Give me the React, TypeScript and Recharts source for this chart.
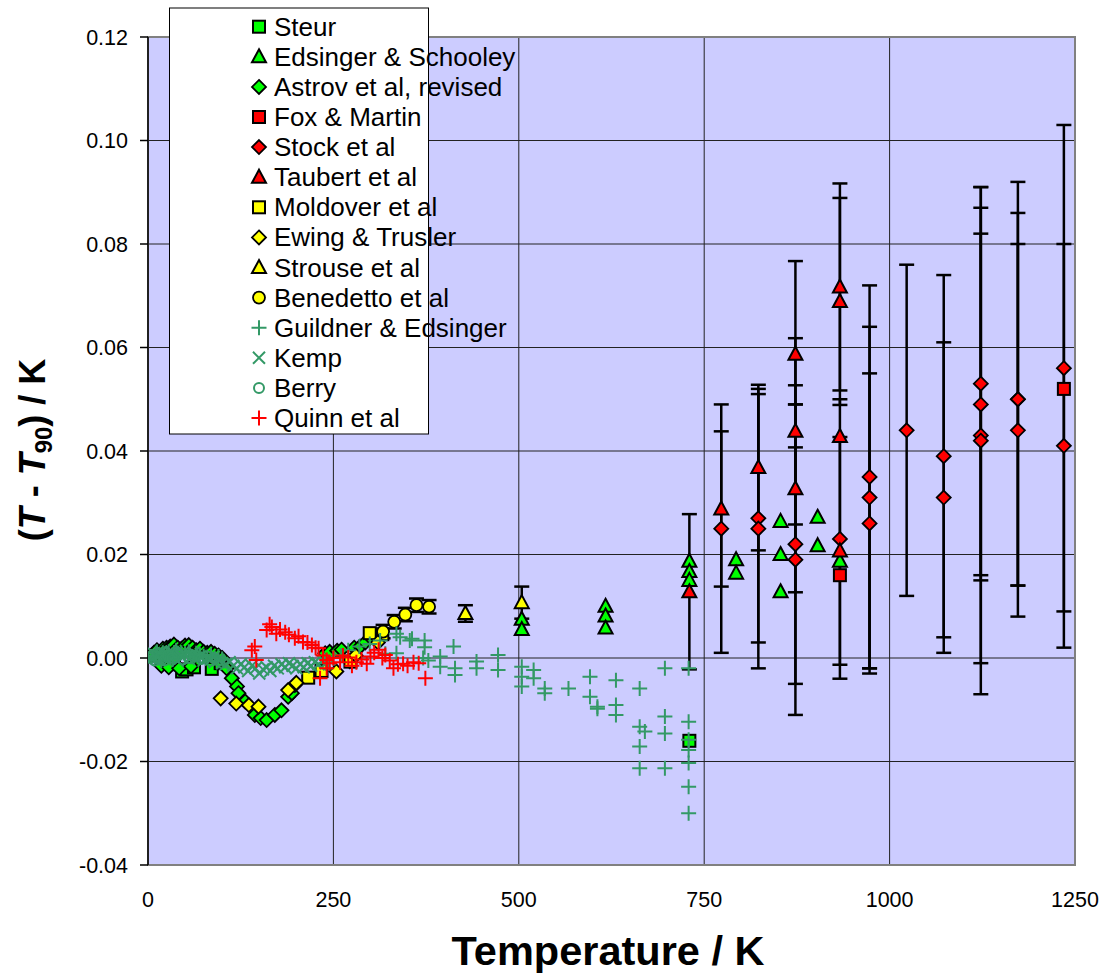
import React from 'react';
import { ScatterChart, Scatter, XAxis, YAxis, CartesianGrid, ErrorBar, ReferenceArea } from 'recharts';

// [temperature K, T - T90 in K, optional error]
type Pt = [number, number, (number | [number, number])?];

const xTicks = [0, 250, 500, 750, 1000, 1250];
const yTicks = [-0.04, -0.02, 0, 0.02, 0.04, 0.06, 0.08, 0.1, 0.12];

const steur: Pt[] = [
  [13, 0.0005], [22, -0.0008], [35, -0.0012], [46, -0.0026], [52, -0.0022],
  [62, -0.0018], [86, -0.0021], [98, -0.001], [730, -0.016],
];

const edsingerSchooley: Pt[] = [
  [504, 0.0075], [504, 0.0055], [617, 0.01], [617, 0.0081], [617, 0.0058],
  [730, 0.0187], [730, 0.0167], [730, 0.015], [793, 0.019], [793, 0.0164],
  [853, 0.0264], [853, 0.02], [853, 0.0128], [903, 0.0272], [903, 0.0217], [933, 0.0187],
];

const astrov: Pt[] = [
  [5, 0.0005], [8, 0.001], [12, 0.0015], [15, 0.001], [20, 0.0018], [25, 0.002],
  [30, 0.0022], [35, 0.0026], [40, 0.002], [45, 0.0018], [50, 0.0024], [55, 0.0025],
  [60, 0.002], [65, 0.0015], [70, 0.0018], [75, 0.0012], [80, 0.001], [85, 0.0012],
  [90, 0.0008], [95, 0.0005], [18, -0.0015], [28, -0.0018], [42, -0.002], [58, -0.0016],
  [100, 0.0], [106, -0.002], [113, -0.0039], [120, -0.0055], [122, -0.0068],
  [131, -0.0084], [144, -0.011], [152, -0.0116], [160, -0.012], [171, -0.011],
  [180, -0.0101], [189, -0.0075], [194, -0.0068], [198, -0.0052],
  [239, 0.0009], [245, 0.0012], [255, 0.0014], [261, 0.0016], [272, -0.0006],
  [278, 0.002], [286, 0.0022], [293, 0.003], [300, 0.004],
];

const foxMartin: Pt[] = [[933, 0.016], [1235, 0.052]];

const stock: Pt[] = [
  [773, 0.025, 0.024], [823, 0.027, 0.024], [823, 0.025, 0.027], [873, 0.022, 0.027],
  [873, 0.019, 0.03], [933, 0.023, 0.027], [973, 0.035, 0.037], [973, 0.031, 0.033],
  [973, 0.026, 0.029], [1023, 0.044, 0.032], [1073, 0.039, 0.035], [1073, 0.031, 0.03],
  [1123, 0.053, 0.038], [1123, 0.049, 0.033], [1123, 0.043, 0.044], [1123, 0.042, 0.049],
  [1173, 0.05, [0.036, 0.042]], [1173, 0.05, 0.036], [1173, 0.044, 0.036],
  [1235, 0.056, 0.047], [1235, 0.041, 0.039],
];

const taubert: Pt[] = [
  [730, 0.0128, 0.015], [773, 0.0288, 0.015], [823, 0.0368, 0.016],
  [873, 0.0587, 0.018], [873, 0.0438, 0.018], [873, 0.0327, 0.02],
  [933, 0.0717, 0.02], [933, 0.0689, 0.02], [933, 0.0428], [933, 0.0207, 0.022],
];

const moldover: Pt[] = [
  [216, -0.0038], [234, -0.0025], [273, -0.0007], [299, 0.0048], [316, 0.0046],
];

const ewingTrusler: Pt[] = [
  [98, -0.0078], [119, -0.0088], [136, -0.0091], [149, -0.0094], [189, -0.0062],
  [200, -0.0048], [254, -0.0026], [280, 0.0005], [310, 0.003],
];

const strouse: Pt[] = [[428, 0.0086, 0.0016], [504, 0.0107, 0.0031]];

const benedetto: Pt[] = [
  [317, 0.0051, 0.0013], [332, 0.007, 0.0013], [347, 0.0084, 0.0013],
  [362, 0.0102, 0.0013], [379, 0.0099, 0.0013],
];

const guildner: Pt[] = [
  [5, 0.0003], [10, 0.0005], [12, 0.0012], [15, 0.0], [18, -0.0005], [20, 0.001],
  [22, 0.0008], [25, 0.0005], [28, 0.0012], [30, 0.0], [33, -0.0003], [35, 0.001],
  [38, 0.0015], [40, 0.0005], [45, 0.001], [50, 0.0008], [55, 0.0012], [60, 0.0003],
  [65, 0.0009], [70, 0.0006], [75, 0.0004], [80, 0.0002], [85, 0.0006], [90, 0.0],
  [95, 0.0003], [100, -0.0002], [240, -0.001], [250, 0.0], [260, 0.0005], [270, 0.0015],
  [285, 0.0022], [299, 0.0027], [313, 0.0034], [320, 0.0008], [335, 0.0047],
  [335, 0.0009], [340, 0.004], [353, 0.0034], [356, 0.0037], [371, 0.0],
  [373, 0.0034], [373, 0.0021], [378, -0.0005], [394, 0.0003], [394, -0.0017],
  [412, 0.0022], [414, -0.002], [414, -0.0033], [443, -0.0007], [443, -0.002],
  [472, 0.0006], [472, -0.0023], [504, -0.0017], [504, -0.0036], [504, -0.0055],
  [520, -0.0023], [520, -0.0039], [535, -0.0059], [535, -0.0068], [567, -0.0059],
  [596, -0.0036], [596, -0.0075], [606, -0.0094], [606, -0.0098], [631, -0.0043],
  [631, -0.0091], [631, -0.011], [663, -0.0059], [663, -0.0133], [670, -0.0142],
  [663, -0.0171], [663, -0.0213], [697, -0.002], [697, -0.0113], [697, -0.0146],
  [697, -0.0213], [729, -0.002], [729, -0.0123], [729, -0.0158], [729, -0.0178],
  [729, -0.0203], [729, -0.0249], [729, -0.03],
];

const kemp: Pt[] = [
  [5, 0.0], [8, 0.0008], [10, 0.0005], [15, -0.0003], [18, 0.0012], [20, 0.0002],
  [25, 0.0008], [30, 0.0], [32, 0.0012], [35, 0.0005], [40, -0.0005], [45, 0.0003],
  [48, 0.0011], [50, 0.0006], [55, -0.0002], [60, 0.0004], [62, 0.001], [65, 0.0],
  [70, 0.0003], [75, -0.0005], [80, 0.0], [85, -0.0003], [90, -0.0008],
  [95, -0.0004], [100, -0.001], [105, -0.0012], [110, -0.0008], [115, -0.0015],
  [120, -0.002], [125, -0.0012], [130, -0.0018], [135, -0.0025], [140, -0.0015],
  [145, -0.002], [150, -0.003], [155, -0.0022], [160, -0.0018], [165, -0.0025],
  [170, -0.0015], [175, -0.002], [180, -0.0012], [185, -0.0018], [190, -0.001],
  [195, -0.0015], [200, -0.002], [205, -0.0012], [210, -0.0018], [215, -0.001],
  [220, -0.0015], [225, -0.0008], [230, -0.0012], [235, -0.0005], [240, -0.001], [245, -0.0002],
];

const berry: Pt[] = [
  [3, 0.0], [6, 0.0005], [9, -0.0005], [13, 0.001], [17, 0.0], [22, -0.0005],
  [27, 0.0005], [33, 0.0], [40, 0.001], [47, -0.0003], [55, 0.0], [63, 0.0005],
  [72, -0.0002], [80, 0.0003], [90, 0.0],
];

const quinn: Pt[] = [
  [140, 0.0015], [144, 0.0022], [146, -0.0004], [160, 0.0054], [164, 0.0065],
  [167, 0.006], [173, 0.0047], [178, 0.0055], [185, 0.005], [190, 0.0045],
  [198, 0.0038], [203, 0.0042], [209, 0.0031], [215, 0.003], [221, 0.0025],
  [226, 0.002], [230, 0.0019], [232, -0.0039], [236, 0.0005], [241, -0.0004],
  [241, -0.002], [245, -0.001], [250, 0.0], [259, -0.0008], [263, 0.0005],
  [270, 0.0001], [275, -0.0015], [281, -0.0008], [288, -0.0003], [295, -0.0011],
  [300, 0.0003], [305, 0.001], [311, 0.0016], [316, 0.0], [320, 0.0006],
  [326, -0.0005], [331, -0.002], [337, -0.0012], [344, -0.0011], [350, -0.0015],
  [358, -0.0008], [365, -0.001], [374, -0.0039],
];

type Kind = 'square' | 'triangle' | 'diamond' | 'circle' | 'plus' | 'x' | 'ring';

const GREEN = '#00FF00';
const RED = '#FF0000';
const YELLOW = '#FFFF00';
const SEA = '#339966';

const series: { name: string; pts: Pt[]; kind: Kind; color: string }[] = [
  { name: 'Steur', pts: steur, kind: 'square', color: GREEN },
  { name: 'Edsinger & Schooley', pts: edsingerSchooley, kind: 'triangle', color: GREEN },
  { name: 'Astrov et al, revised', pts: astrov, kind: 'diamond', color: GREEN },
  { name: 'Fox & Martin', pts: foxMartin, kind: 'square', color: RED },
  { name: 'Stock et al', pts: stock, kind: 'diamond', color: RED },
  { name: 'Taubert et al', pts: taubert, kind: 'triangle', color: RED },
  { name: 'Moldover et al', pts: moldover, kind: 'square', color: YELLOW },
  { name: 'Ewing & Trusler', pts: ewingTrusler, kind: 'diamond', color: YELLOW },
  { name: 'Strouse et al', pts: strouse, kind: 'triangle', color: YELLOW },
  { name: 'Benedetto et al', pts: benedetto, kind: 'circle', color: YELLOW },
  { name: 'Guildner & Edsinger', pts: guildner, kind: 'plus', color: SEA },
  { name: 'Kemp', pts: kemp, kind: 'x', color: SEA },
  { name: 'Berry', pts: berry, kind: 'ring', color: SEA },
  { name: 'Quinn et al', pts: quinn, kind: 'plus', color: RED },
];

const FONT = 'Arial, "Liberation Sans", sans-serif';

const Marker = ({ kind, color, cx, cy }: { kind: Kind; color: string; cx: number; cy: number }) => {
  switch (kind) {
    case 'square':
      return <rect x={cx - 6} y={cy - 6} width={12} height={12} fill={color} stroke="#000" strokeWidth={2} />;
    case 'triangle':
      return (
        <polygon
          points={`${cx},${cy - 7.5} ${cx + 7},${cy + 5.5} ${cx - 7},${cy + 5.5}`}
          fill={color}
          stroke="#000"
          strokeWidth={2}
        />
      );
    case 'diamond':
      return (
        <polygon
          points={`${cx},${cy - 7} ${cx + 7},${cy} ${cx},${cy + 7} ${cx - 7},${cy}`}
          fill={color}
          stroke="#000"
          strokeWidth={1.8}
        />
      );
    case 'circle':
      return <circle cx={cx} cy={cy} r={6} fill={color} stroke="#000" strokeWidth={1.8} />;
    case 'ring':
      return <circle cx={cx} cy={cy} r={5} fill="none" stroke={color} strokeWidth={2} />;
    case 'plus':
      return <path d={`M${cx - 7.5},${cy}H${cx + 7.5}M${cx},${cy - 7.5}V${cy + 7.5}`} stroke={color} strokeWidth={2} />;
    case 'x':
      return <path d={`M${cx - 6},${cy - 6}L${cx + 6},${cy + 6}M${cx - 6},${cy + 6}L${cx + 6},${cy - 6}`} stroke={color} strokeWidth={2} />;
  }
  return null;
};

const toRows = (pts: Pt[]) => pts.map(([t, d, e]) => ({ t, d, e }));

export default function App() {
  return (
    <div style={{ position: 'relative', width: 1109, height: 976 }}>
      <style>{'body{margin:0}'}</style>
      <ScatterChart width={1109} height={976} margin={{ top: 37, right: 34, left: 48, bottom: 51 }}>
        <CartesianGrid stroke="#222" strokeWidth={1} fill="#CCCCFF" fillOpacity={1} />
        <XAxis
          type="number"
          dataKey="t"
          domain={[0, 1250]}
          ticks={xTicks}
          interval={0}
          allowDataOverflow
          height={60}
          axisLine={false}
          tickLine={false}
          tickSize={0}
          tickMargin={27}
          tick={{ fontSize: 21.5, fill: '#000', fontFamily: FONT }}
        />
        <YAxis
          type="number"
          dataKey="d"
          domain={[-0.04, 0.12]}
          ticks={yTicks}
          interval={0}
          allowDataOverflow
          width={100}
          axisLine={{ stroke: '#000', strokeWidth: 1.5 }}
          tickLine={{ stroke: '#000', strokeWidth: 1.5 }}
          tickSize={8}
          tickMargin={12}
          tickFormatter={(v: number) => v.toFixed(2)}
          tick={{ fontSize: 21.5, fill: '#000', fontFamily: FONT }}
        />
        <ReferenceArea x1={0} x2={1250} y1={-0.04} y2={0.12} fill="none" stroke="#808080" strokeWidth={2} ifOverflow="visible" />
        {series.map((s) => (
          <Scatter
            key={s.name}
            name={s.name}
            data={toRows(s.pts)}
            fill={s.color}
            isAnimationActive={false}
            shape={(p: any) => <Marker kind={s.kind} color={s.color} cx={p.cx} cy={p.cy} />}
          >
            {s.pts.some((p) => p[2] !== undefined) && (
              <ErrorBar dataKey="e" direction="y" width={7.5} stroke="#000" strokeWidth={2.5} isAnimationActive={false} />
            )}
          </Scatter>
        ))}
      </ScatterChart>
      <svg
        width={1109}
        height={976}
        style={{ position: 'absolute', left: 0, top: 0, pointerEvents: 'none' }}
        fontFamily={FONT}
      >
        <rect x={169.5} y={8} width={259} height={426} fill="#fff" stroke="#000" strokeWidth={1} />
        {series.map((s, i) => {
          const cy = 26.7 + i * 30.1;
          return (
            <g key={s.name}>
              <Marker kind={s.kind} color={s.color} cx={259} cy={cy} />
              <text x={274} y={cy + 9} fontSize={26} fill="#000">
                {s.name}
              </text>
            </g>
          );
        })}
        <text x={608} y={965} fontSize={41.5} fontWeight="bold" textAnchor="middle" fill="#000">
          Temperature / K
        </text>
        <text
          x={45}
          y={450}
          transform="rotate(-90 45 450)"
          fontSize={36}
          fontWeight="bold"
          textAnchor="middle"
          fill="#000"
        >
          (<tspan fontStyle="italic">T</tspan> - <tspan fontStyle="italic">T</tspan>
          <tspan fontSize={24} dy={7}>90</tspan>
          <tspan dy={-7}>) / K</tspan>
        </text>
      </svg>
    </div>
  );
}
